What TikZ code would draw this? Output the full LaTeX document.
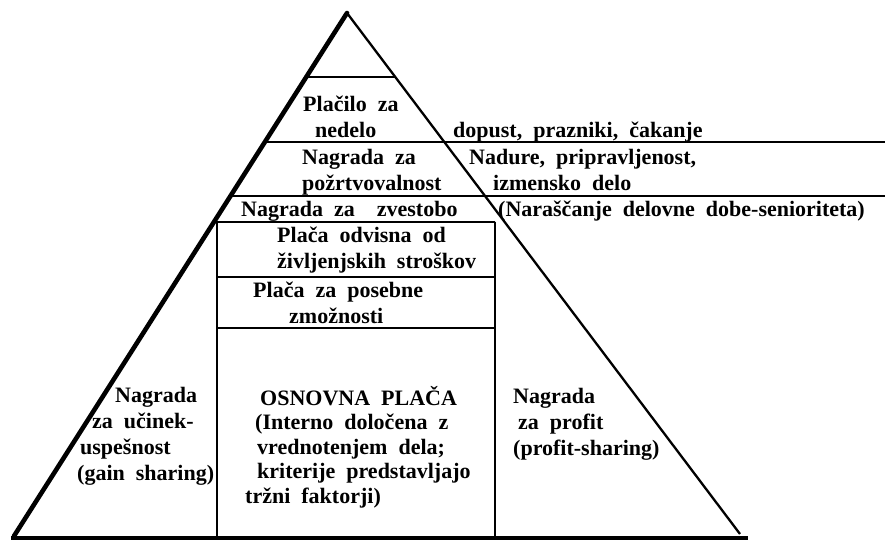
\documentclass[tikz,border=0pt]{standalone}
\usepackage{fontspec}
\setmainfont{Liberation Serif}[WordSpace=2]
\usetikzlibrary{positioning,calc}

\begin{document}
\begin{tikzpicture}[x=1pt,y=-1pt,
  txt/.style={font=\fontsize{22}{25.8}\selectfont\bfseries,inner sep=0pt,
              align=left,anchor=base west},
  rule/.style={line width=1.6pt},
  frame/.style={line width=1.3pt},
  heavy/.style={line width=4.6pt,line cap=round},
  side/.style={line width=2.3pt}
]
\useasboundingbox (0,0) rectangle (885,543);

% Pyramid outline
\coordinate (top) at (347,13);
\coordinate (bl)  at (14,536);
\coordinate (br)  at (740,534);
\coordinate (gl)  at (11,538);
\coordinate (gr)  at (748,538);
\draw[side]  (top) -- (br);
\draw[heavy] (bl) -- (top);
\draw[heavy,line cap=butt] (gl) -- (gr);

% Levels of the pyramid (upper ones run out to the right margin)
\draw[rule] (intersection of top--bl and 0,77--1,77)
         -- (intersection of top--br and 0,77--1,77);
\foreach \lev in {142,196}
  \draw[rule] (intersection of top--bl and 0,\lev--1,\lev) -- (885,\lev);
\draw[rule] (intersection of top--bl and 0,222--1,222) -- (495,222);

% Base pay column
\coordinate (cl) at (217,222);
\coordinate (cr) at (495,222);
\draw[frame] (cl) -- (217,538);
\draw[frame] (cr) -- (495,538);
\foreach \lev in {277,328}
  \draw[rule] (217,\lev) -- (495,\lev);

% Texts inside the pyramid (placed by the baseline of their last line)
\node[txt] (nedelo) at (303,137) {Plačilo za\\\hspace*{12pt}nedelo};
\node[txt] (pozrt)  at (302,190) {Nagrada za\\požrtvovalnost};
\node[txt] (zvest)  at (241,216) {Nagrada za\ \ zvestobo};
\node[txt] (stros)  at (277,268) {Plača odvisna od\\življenjskih stroškov};
\node[txt] (zmozn)  at (253,323) {Plača za posebne\\\hspace*{36pt}zmožnosti};
\node[txt] (ucin)   at (77,480)  {\hspace*{38pt}Nagrada\\\hspace*{15pt}za učinek-\\
                                  \hspace*{3pt}uspešnost\\(gain sharing)};
\node[txt,font=\fontsize{22}{24.4}\selectfont\bfseries]
           (osnov)  at (245,503) {\hspace*{15pt}OSNOVNA PLAČA\\\hspace*{10pt}(Interno določena z\\
                                  \hspace*{12pt}vrednotenjem dela;\\\hspace*{12pt}kriterije predstavljajo\\
                                  tržni faktorji)};
\node[txt] (profit) at (513,455) {Nagrada\\\hspace*{5pt}za profit\\(profit-sharing)};

% Texts to the right
\node[txt] (dopust) at (453,137) {dopust, prazniki, čakanje};
\node[txt] (nadure) at (469,190) {Nadure, pripravljenost,\\\hspace*{24pt}izmensko delo};
\node[txt] (senior) at (498,216) {(Naraščanje delovne dobe-senioriteta)};
\end{tikzpicture}
\end{document}
